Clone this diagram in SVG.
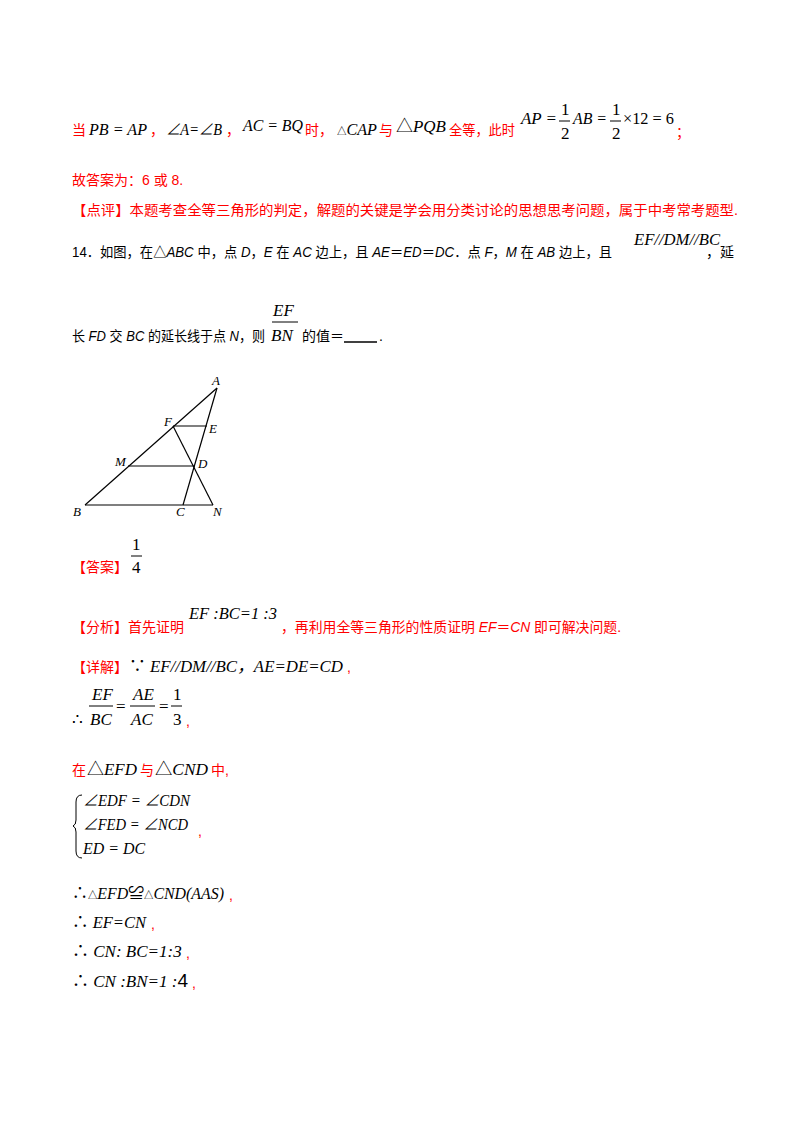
<svg xmlns="http://www.w3.org/2000/svg" width="800" height="1132" viewBox="0 0 800 1132">
<style>
.c{font-family:"Liberation Sans","Noto Sans CJK SC",sans-serif;font-size:14px}
.r{fill:#ff0000}
.k{fill:#000}
.m{font-family:"Liberation Serif","Noto Sans CJK SC",serif;font-size:17px;font-style:italic}
.n{font-family:"Liberation Serif",serif;font-size:17px}
.bar{stroke:#000;stroke-width:1}
.fig line{stroke:#000;stroke-width:1.2}
.lb{font-family:"Liberation Serif",serif;font-size:13px;font-style:italic}
</style>
<rect width="800" height="1132" fill="#fff"/>
<g id="line1">
<text x="72" y="135" class="c r">当</text>
<text x="89" y="135" class="m k" textLength="58" lengthAdjust="spacingAndGlyphs">PB = AP</text>
<text x="150" y="135" class="c r">，</text>
<text x="166" y="135" class="m k" textLength="56" lengthAdjust="spacingAndGlyphs">∠A=∠B</text>
<text x="226" y="135" class="c r">，</text>
<text x="243" y="131" class="m k" textLength="60" lengthAdjust="spacingAndGlyphs">AC = BQ</text>
<text x="305" y="135" class="c r">时，</text>
<text x="337" y="135" class="m k" textLength="40" lengthAdjust="spacingAndGlyphs"><tspan font-size="10" font-style="normal">△</tspan>CAP</text>
<text x="379" y="135" class="c r">与</text>
<text x="396" y="132" class="m k" textLength="50" lengthAdjust="spacingAndGlyphs"><tspan font-style="normal">△</tspan>PQB</text>
<text x="449" y="135" class="c r" textLength="66" lengthAdjust="spacingAndGlyphs">全等，此时</text>
<text x="521" y="124" class="m k" textLength="36" lengthAdjust="spacingAndGlyphs">AP =</text>
<text x="561" y="115" class="n k">1</text><line x1="559" y1="121" x2="570" y2="121" class="bar"/>
<text x="561" y="139" class="n k">2</text>
<text x="573" y="124" class="m k" textLength="34" lengthAdjust="spacingAndGlyphs">AB =</text>
<text x="612" y="115" class="n k">1</text><line x1="610" y1="121" x2="621" y2="121" class="bar"/>
<text x="612" y="139" class="n k">2</text>
<text x="623" y="124" class="n k" textLength="51" lengthAdjust="spacingAndGlyphs">×12 = 6</text>
<text x="676" y="137" class="c r">；</text>
</g>
<text x="72" y="185" class="c r">故答案为：6 或 8.</text>
<text x="72" y="215" class="c r" textLength="666" lengthAdjust="spacingAndGlyphs">【点评】本题考查全等三角形的判定，解题的关键是学会用分类讨论的思想思考问题，属于中考常考题型.</text>
<g id="q14">
<text x="72" y="257" class="c k" textLength="540" lengthAdjust="spacingAndGlyphs">14．如图，在△<tspan font-style="italic">ABC</tspan> 中，点 <tspan font-style="italic">D</tspan>，<tspan font-style="italic">E</tspan> 在 <tspan font-style="italic">AC</tspan> 边上，且 <tspan font-style="italic">AE</tspan>＝<tspan font-style="italic">ED</tspan>＝<tspan font-style="italic">DC</tspan>．点 <tspan font-style="italic">F</tspan>，<tspan font-style="italic">M</tspan> 在 <tspan font-style="italic">AB</tspan> 边上，且</text>
<text x="634" y="245" class="m k" textLength="86" lengthAdjust="spacingAndGlyphs">EF//DM//BC</text>
<text x="706" y="257" class="c k">，延</text>
<text x="72" y="341" class="c k" textLength="193" lengthAdjust="spacingAndGlyphs">长 <tspan font-style="italic">FD</tspan> 交 <tspan font-style="italic">BC</tspan> 的延长线于点 <tspan font-style="italic">N</tspan>，则</text>
<text x="273" y="316" class="m k">EF</text>
<line x1="272" y1="322" x2="298" y2="322" class="bar"/>
<text x="271" y="341" class="m k">BN</text>
<text x="302" y="341" class="c k">的值＝</text>
<line x1="344" y1="342" x2="377" y2="342" stroke="#000" stroke-width="1.5"/>
<text x="379" y="341" class="c k">.</text>
</g>
<g class="fig">
<line x1="85" y1="505" x2="217" y2="388"/>
<line x1="217" y1="388" x2="183" y2="505"/>
<line x1="85" y1="505" x2="213" y2="505"/>
<line x1="173" y1="426" x2="207" y2="426"/>
<line x1="128" y1="466" x2="195" y2="466"/>
<line x1="173" y1="426" x2="213" y2="505"/>
</g>
<g id="labels">
<text x="212" y="385" class="lb">A</text>
<text x="164" y="426" class="lb">F</text>
<text x="209" y="433" class="lb">E</text>
<text x="115" y="466" class="lb">M</text>
<text x="198" y="468" class="lb">D</text>
<text x="73" y="516" class="lb">B</text>
<text x="176" y="516" class="lb">C</text>
<text x="213" y="516" class="lb">N</text>
</g>
<text x="72" y="572" class="c r">【答案】</text>
<text x="132" y="550" class="n k">1</text>
<line x1="131" y1="556" x2="142" y2="556" class="bar"/>
<text x="132" y="573" class="n k">4</text>
<text x="72" y="632" class="c r">【分析】首先证明</text>
<text x="189" y="619" class="m k" textLength="88" lengthAdjust="spacingAndGlyphs">EF  :BC=1 :3</text>
<text x="281" y="632" class="c r" textLength="340" lengthAdjust="spacingAndGlyphs">，再利用全等三角形的性质证明 <tspan font-style="italic">EF</tspan>＝<tspan font-style="italic">CN</tspan> 即可解决问题.</text>
<text x="72" y="672" class="c r">【详解】</text>
<text x="129" y="672" class="m k" textLength="214" lengthAdjust="spacingAndGlyphs"><tspan font-style="normal">∵</tspan> EF//DM//BC，AE=DE=CD</text>
<text x="347" y="672" class="c r">,</text>
<text x="92" y="700" class="m k">EF</text>
<line x1="89" y1="706" x2="113" y2="706" class="bar"/>
<text x="90" y="725" class="m k">BC</text>
<text x="116" y="712" class="n k">=</text>
<text x="133" y="700" class="m k">AE</text>
<line x1="130" y1="706" x2="155" y2="706" class="bar"/>
<text x="131" y="725" class="m k">AC</text>
<text x="159" y="712" class="n k">=</text>
<text x="173" y="700" class="n k">1</text>
<line x1="171" y1="706" x2="182" y2="706" class="bar"/>
<text x="173" y="725" class="n k">3</text>
<text x="72" y="725" class="n k">∴</text>
<text x="186" y="726" class="c r">,</text>
<text x="72" y="775" class="c r">在</text>
<text x="87" y="775" class="m k" textLength="50" lengthAdjust="spacingAndGlyphs"><tspan font-style="normal">△</tspan>EFD</text>
<text x="140" y="775" class="c r">与</text>
<text x="155" y="775" class="m k" textLength="53" lengthAdjust="spacingAndGlyphs"><tspan font-style="normal">△</tspan>CND</text>
<text x="211" y="775" class="c r">中,</text>
<path d="M82 795 Q76 795 76 802 L76 820 Q76 825 73 826 Q76 827 76 832 L76 851 Q76 858 82 858" fill="none" stroke="#000"/>
<text x="83" y="806" class="m k" textLength="107" lengthAdjust="spacingAndGlyphs">∠EDF = ∠CDN</text>
<text x="83" y="830" class="m k" textLength="105" lengthAdjust="spacingAndGlyphs">∠FED = ∠NCD</text>
<text x="83" y="854" class="m k" textLength="62" lengthAdjust="spacingAndGlyphs">ED = DC</text>
<text x="198" y="836" class="c r">,</text>
<text x="72" y="899" class="m k" textLength="152" lengthAdjust="spacingAndGlyphs"><tspan font-style="normal">∴</tspan><tspan font-size="10" font-style="normal">△</tspan>EFD<tspan font-style="normal">≌</tspan><tspan font-size="10" font-style="normal">△</tspan>CND(AAS)</text>
<text x="229" y="900" class="c r">,</text>
<text x="72" y="928" class="m k" textLength="74" lengthAdjust="spacingAndGlyphs"><tspan font-style="normal">∴</tspan> EF=CN</text>
<text x="151" y="929" class="c r">,</text>
<text x="72" y="957" class="m k"><tspan font-style="normal">∴</tspan> CN: BC=1:3</text>
<text x="186" y="958" class="c r">,</text>
<text x="72" y="987" class="m k"><tspan font-style="normal">∴</tspan> CN :BN=1 :<tspan font-style="normal" font-family="Liberation Sans" font-size="19">4</tspan></text>
<text x="192" y="988" class="c r">,</text>
</svg>
